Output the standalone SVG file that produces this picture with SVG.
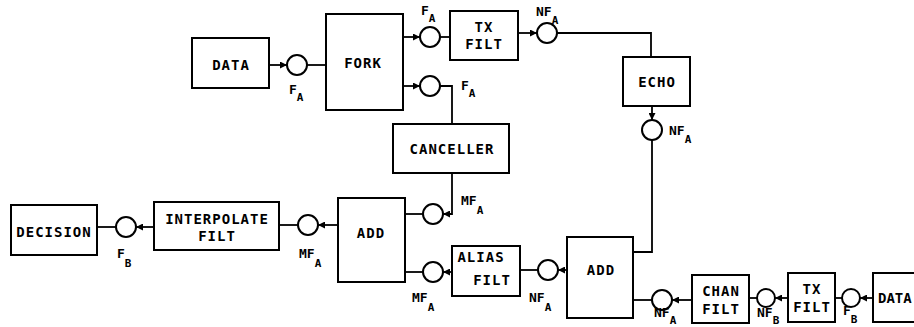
<svg xmlns="http://www.w3.org/2000/svg" width="914" height="327" viewBox="0 0 914 327">
<style>
.box{fill:none;stroke:#000;stroke-width:2}
.jn{fill:#fff;stroke:#000;stroke-width:2}
.ln{fill:none;stroke:#000;stroke-width:1.8}
.arr{marker-end:url(#ah)}
.t{font-family:"DejaVu Sans Mono","Liberation Mono",monospace;font-weight:bold;font-size:14px;letter-spacing:1px;text-anchor:middle;fill:#000}
.l{font-family:"DejaVu Sans Mono","Liberation Mono",monospace;font-weight:bold;font-size:13px;fill:#000}
.s{font-size:11px}
</style>
<defs>
<marker id="ah" viewBox="0 0 10 10" refX="10" refY="5" markerWidth="7" markerHeight="7" markerUnits="userSpaceOnUse" orient="auto">
<path d="M0,0 L10,5 L0,10 z" fill="#000"/>
</marker>
</defs>
<rect width="914" height="327" fill="#fff"/>
<g id="connectors">
<path class="ln arr" d="M269,65 H287"/>
<path class="ln" d="M307,65 H326"/>
<path class="ln arr" d="M403,37 H420"/>
<path class="ln" d="M440,37 H450"/>
<path class="ln arr" d="M518,33 H537"/>
<path class="ln" d="M557,33 H651 V57"/>
<path class="ln arr" d="M652,106 V120"/>
<path class="ln" d="M652,140 V252 H633"/>
<path class="ln arr" d="M403,86 H420"/>
<path class="ln" d="M440,86 H452 V124"/>
<path class="ln arr" d="M452,173 V214 H443"/>
<path class="ln" d="M423,214 H405"/>
<path class="ln arr" d="M567,270 H558"/>
<path class="ln" d="M538,270 H520"/>
<path class="ln arr" d="M452,272 H443"/>
<path class="ln" d="M423,272 H405"/>
<path class="ln arr" d="M338,225 H318"/>
<path class="ln" d="M298,225 H279"/>
<path class="ln arr" d="M154,227 H136"/>
<path class="ln" d="M116,227 H97"/>
<path class="ln arr" d="M692,300 H672"/>
<path class="ln" d="M652,300 H633"/>
<path class="ln arr" d="M788,298 H775"/>
<path class="ln" d="M757,298 H749"/>
<path class="ln arr" d="M873,298 H860"/>
<path class="ln" d="M842,298 H835"/>
</g>
<g id="data-a"><rect class="box" x="192" y="38" width="77" height="50"/><text class="t" x="231" y="70">DATA</text></g>
<g id="fork"><rect class="box" x="326" y="14" width="77" height="96"/><text class="t" x="363" y="68">FORK</text></g>
<g id="tx-filt-a"><rect class="box" x="450" y="11" width="68" height="49"/><text class="t" x="484" y="32">TX</text><text class="t" x="484" y="49">FILT</text></g>
<g id="echo"><rect class="box" x="623" y="57" width="67" height="49"/><text class="t" x="657" y="87">ECHO</text></g>
<g id="canceller"><rect class="box" x="393" y="124" width="116" height="49"/><text class="t" x="452" y="154">CANCELLER</text></g>
<g id="add1"><rect class="box" x="338" y="198" width="67" height="84"/><text class="t" x="371" y="238">ADD</text></g>
<g id="add2"><rect class="box" x="567" y="237" width="66" height="81"/><text class="t" x="601" y="275">ADD</text></g>
<g id="alias-filt"><rect class="box" x="452" y="246" width="68" height="50"/><text class="t" x="481" y="262">ALIAS</text><text class="t" x="492" y="285">FILT</text></g>
<g id="interpolate-filt"><rect class="box" x="154" y="202" width="125" height="48"/><text class="t" x="217" y="224">INTERPOLATE</text><text class="t" x="217" y="241">FILT</text></g>
<g id="decision"><rect class="box" x="11" y="205" width="86" height="50"/><text class="t" x="54" y="237">DECISION</text></g>
<g id="chan-filt"><rect class="box" x="692" y="275" width="57" height="48"/><text class="t" x="721" y="296">CHAN</text><text class="t" x="721" y="314">FILT</text></g>
<g id="tx-filt-b"><rect class="box" x="788" y="273" width="47" height="49"/><text class="t" x="812" y="294">TX</text><text class="t" x="812" y="312">FILT</text></g>
<g id="data-b"><rect class="box" x="873" y="273" width="50" height="49"/><text class="t" x="878" y="303" style="text-anchor:start;letter-spacing:0">DATA</text></g>
<g id="junctions">
<circle class="jn" cx="297" cy="65" r="10"/>
<circle class="jn" cx="430" cy="37" r="10"/>
<circle class="jn" cx="547" cy="33" r="10"/>
<circle class="jn" cx="652" cy="130" r="10"/>
<circle class="jn" cx="430" cy="86" r="10"/>
<circle class="jn" cx="433" cy="214" r="10"/>
<circle class="jn" cx="548" cy="270" r="10"/>
<circle class="jn" cx="433" cy="272" r="10"/>
<circle class="jn" cx="308" cy="225" r="10"/>
<circle class="jn" cx="126" cy="227" r="10"/>
<circle class="jn" cx="662" cy="300" r="10"/>
<circle class="jn" cx="766" cy="298" r="9"/>
<circle class="jn" cx="851" cy="298" r="9"/>
</g>
<g id="labels">
<text class="l" x="289" y="94">F<tspan class="s" dy="7">A</tspan></text>
<text class="l" x="421" y="15">F<tspan class="s" dy="7">A</tspan></text>
<text class="l" x="461" y="90">F<tspan class="s" dy="7">A</tspan></text>
<text class="l" x="536" y="16">NF<tspan class="s" dy="8">A</tspan></text>
<text class="l" x="669" y="135">NF<tspan class="s" dy="8">A</tspan></text>
<text class="l" x="461" y="205">MF<tspan class="s" dy="9">A</tspan></text>
<text class="l" x="529" y="302">NF<tspan class="s" dy="9">A</tspan></text>
<text class="l" x="412" y="302">MF<tspan class="s" dy="9">A</tspan></text>
<text class="l" x="299" y="258">MF<tspan class="s" dy="9">A</tspan></text>
<text class="l" x="117" y="258">F<tspan class="s" dy="9">B</tspan></text>
<text class="l" x="654" y="317">NF<tspan class="s" dy="7">A</tspan></text>
<text class="l" x="757" y="317">NF<tspan class="s" dy="7">B</tspan></text>
<text class="l" x="843" y="315">F<tspan class="s" dy="8">B</tspan></text>
</g>
</svg>
